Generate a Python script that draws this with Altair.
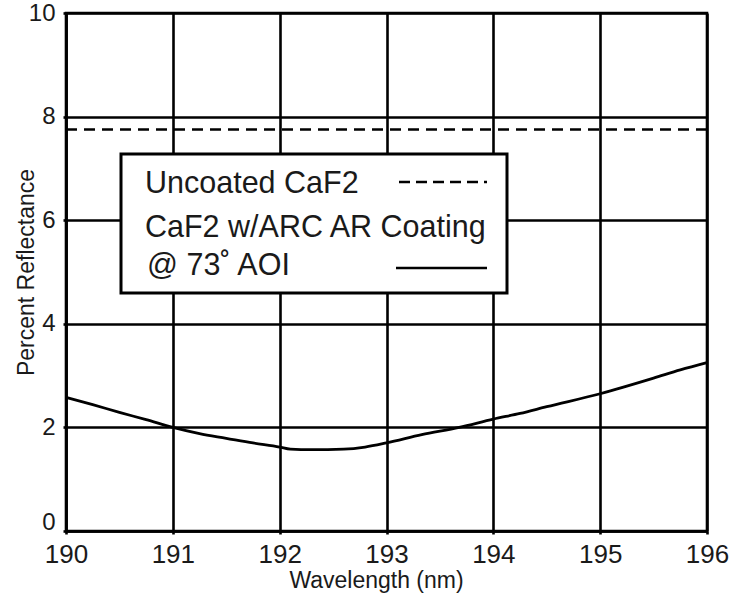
import altair as alt
import pandas as pd

# Reflectance of AR-coated CaF2 at 73 degree AOI, read along the wavelength axis
wavelength = [190.0, 190.25, 190.5, 190.75, 191.0, 191.25, 191.5, 191.75, 192.0,
              192.1, 192.3, 192.6, 192.8, 193.0, 193.33, 193.68, 194.0, 194.25,
              194.5, 195.0, 195.5, 195.75, 196.0]
coated = [2.58, 2.44, 2.29, 2.15, 2.00, 1.88, 1.79, 1.70, 1.62,
          1.58, 1.57, 1.58, 1.62, 1.70, 1.86, 2.00, 2.16, 2.27,
          2.40, 2.65, 2.95, 3.11, 3.25]
uncoated_level = [7.75]

x_ticks = [190, 191, 192, 193, 194, 195, 196]
y_ticks = [0, 2, 4, 6, 8, 10]

legend_lines = ["Uncoated CaF2", "CaF2 w/ARC AR Coating", "@ 73˚ AOI"]

FONT = "Liberation Sans"
INK = "#1a1a1a"

curve_df = pd.DataFrame({"wavelength": wavelength, "reflectance": coated})
flat_df = pd.DataFrame({"reflectance": uncoated_level})

x_enc = alt.X(
    "wavelength:Q",
    scale=alt.Scale(domain=[190, 196], nice=False, zero=False),
    axis=alt.Axis(
        values=x_ticks, format="d", title="Wavelength (nm)",
        labelFontSize=26, labelPadding=7, labelFlush=False,
        titleFontSize=23, titleX=310, titleY=56,
        titleBaseline="alphabetic",
    ),
)
y_enc = alt.Y(
    "reflectance:Q",
    scale=alt.Scale(domain=[0, 10], nice=False),
    axis=alt.Axis(
        values=y_ticks, format="d", title="Percent Reflectance",
        labelFontSize=24, labelPadding=8, labelFlush=False,
        # the bottom label sits a little above the corner
        labelOffset=alt.ExprRef("datum.value == 0 ? -9 : 0"),
        titleFontSize=23, titleX=-33, titleY=259, titleAngle=-90,
        titleBaseline="alphabetic", titleAlign="center",
    ),
)

curve = alt.Chart(curve_df).mark_line(
    color="black", strokeWidth=2.8, interpolate="monotone"
).encode(x=x_enc, y=y_enc)

uncoated = alt.Chart(flat_df).mark_rule(
    color="black", strokeWidth=2.6, strokeDash=[11, 7]
).encode(y=alt.Y("reflectance:Q"))

one = alt.Data(values=[{}])

legend_box = alt.Chart(one).mark_rect(
    fill="white", stroke="black", strokeWidth=3
).encode(
    x=alt.value(55), x2=alt.value(441), y=alt.value(141), y2=alt.value(280)
)

text_y = [180, 224, 262]
text_x = [79, 79, 81]
legend_text = [
    alt.Chart(one).mark_text(
        text=label, align="left", baseline="alphabetic",
        font=FONT, fontSize=30.5, color=INK,
    ).encode(x=alt.value(tx), y=alt.value(ty))
    for label, tx, ty in zip(legend_lines, text_x, text_y)
]

dash_sample = alt.Chart(one).mark_rule(
    color="black", strokeWidth=2.6, strokeDash=[11, 6]
).encode(x=alt.value(333), x2=alt.value(421), y=alt.value(169))

solid_sample = alt.Chart(one).mark_rule(
    color="black", strokeWidth=2.6
).encode(x=alt.value(330), x2=alt.value(421), y=alt.value(255))

chart = alt.layer(
    uncoated, curve, legend_box, dash_sample, solid_sample, *legend_text
).properties(
    width=641, height=518,
    padding={"left": 66, "top": 13, "right": 24, "bottom": 72},
    autosize=alt.AutoSizeParams(type="none"),
    background="white",
).configure_view(
    stroke="black", strokeWidth=2.6
).configure_axis(
    grid=True, gridColor="black", gridWidth=2.6, gridOpacity=1,
    domainColor="black", domainWidth=2.6,
    tickColor="black", tickSize=3, tickWidth=2.6,
    labelFont=FONT, titleFont=FONT, labelColor=INK, titleColor=INK,
    titleFontWeight="normal",
)

chart.save("out.html", embed_options={"renderer": "svg", "actions": False})
